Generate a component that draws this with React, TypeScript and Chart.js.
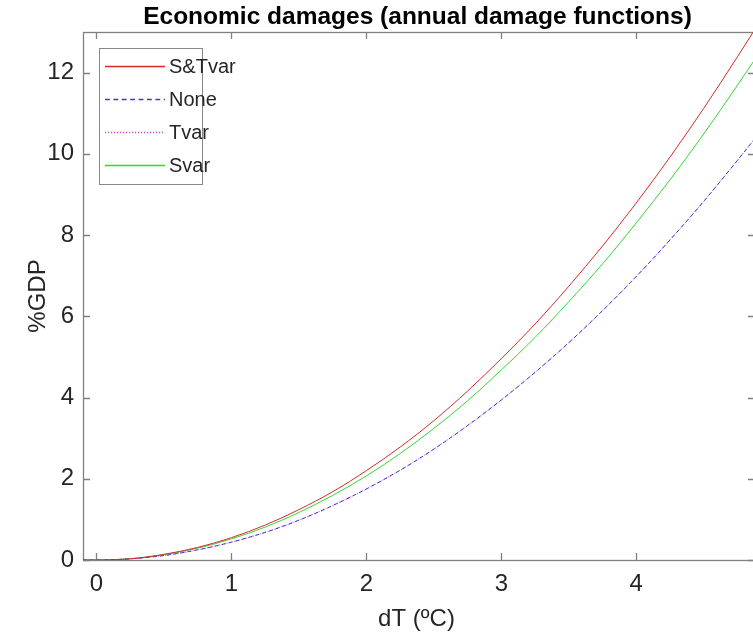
import React, { useEffect, useRef } from "react";
import { Chart, registerables } from "chart.js";

Chart.register(...registerables);

const dT = [-0.1, 0, 0.25, 0.5, 0.75, 1, 1.25, 1.5, 1.75, 2, 2.25, 2.5, 2.75, 3, 3.25, 3.5, 3.75, 4, 4.25, 4.5, 4.75, 4.88];
const sTvar = [0, 0, 0.03, 0.14, 0.31, 0.55, 0.86, 1.24, 1.68, 2.2, 2.78, 3.43, 4.16, 4.96, 5.81, 6.74, 7.73, 8.79, 9.92, 11.12, 12.39, 13.07];
const none = [0, 0, 0.03, 0.11, 0.25, 0.44, 0.68, 0.98, 1.34, 1.75, 2.21, 2.73, 3.31, 3.94, 4.62, 5.35, 6.14, 6.98, 7.88, 8.83, 9.84, 10.38];
const tvar = [0, 0, 0.03, 0.11, 0.25, 0.44, 0.68, 0.98, 1.34, 1.75, 2.21, 2.73, 3.31, 3.94, 4.62, 5.35, 6.14, 6.98, 7.88, 8.83, 9.84, 10.38];
const svar = [0, 0, 0.03, 0.13, 0.29, 0.52, 0.81, 1.17, 1.59, 2.07, 2.62, 3.24, 3.92, 4.68, 5.48, 6.36, 7.29, 8.3, 9.36, 10.49, 11.69, 12.33];

const TITLE = "Economic damages (annual damage functions)";
const X_LABEL = "dT (\u00baC)";
const Y_LABEL = "%GDP";

const FONT = "'Liberation Sans', Arial, Helvetica, sans-serif";
const AXIS_COLOR = "#808080";
const TEXT_COLOR = "#262626";

const series = [
  { label: "S&Tvar", data: sTvar, color: "#d42a2a", dash: [] as number[] },
  { label: "None", data: none, color: "#3b3bd0", dash: [4, 3] },
  { label: "Tvar", data: tvar, color: "#d040d0", dash: [1, 1.5] },
  { label: "Svar", data: svar, color: "#33d633", dash: [] as number[] },
];

const boxPlugin = {
  id: "matlabBox",
  beforeDatasetsDraw(chart: any) {
    const { ctx, chartArea, scales } = chart;
    const { left, right, top, bottom } = chartArea;
    const x = scales.x;
    const y = scales.y;
    ctx.save();
    ctx.strokeStyle = AXIS_COLOR;
    ctx.lineWidth = 1.3;
    ctx.strokeRect(left + 0.5, top + 0.5, right - left, bottom - top);
    const tl = 7;
    ctx.beginPath();
    x.ticks.forEach((t: any) => {
      const px = Math.round(x.getPixelForValue(t.value)) + 0.5;
      ctx.moveTo(px, bottom);
      ctx.lineTo(px, bottom - tl);
      ctx.moveTo(px, top);
      ctx.lineTo(px, top + tl);
    });
    y.ticks.forEach((t: any) => {
      const py = Math.round(y.getPixelForValue(t.value)) + 0.5;
      ctx.moveTo(left, py);
      ctx.lineTo(left + tl, py);
      ctx.moveTo(right, py);
      ctx.lineTo(right - tl, py);
    });
    ctx.stroke();
    ctx.restore();
  },
  afterDraw(chart: any) {
    const { ctx, chartArea } = chart;
    const { left, right, top, bottom } = chartArea;
    ctx.save();
    // title
    ctx.fillStyle = "#000";
    ctx.font = `bold 24.5px ${FONT}`;
    ctx.textAlign = "center";
    ctx.textBaseline = "alphabetic";
    ctx.fillText(TITLE, (left + right) / 2 - 1.5, 24);
    // x label
    ctx.fillStyle = TEXT_COLOR;
    ctx.font = `24px ${FONT}`;
    ctx.fillText(X_LABEL, (left + right) / 2 - 2.5, 626);
    // y label
    ctx.save();
    ctx.translate(45, (top + bottom) / 2);
    ctx.rotate(-Math.PI / 2);
    ctx.fillText(Y_LABEL, 0, 0);
    ctx.restore();
    // legend
    const bx = 99, by = 48, bw = 103, bh = 136;
    ctx.fillStyle = "#fff";
    ctx.fillRect(bx, by, bw, bh);
    ctx.strokeStyle = "#888";
    ctx.lineWidth = 1;
    ctx.strokeRect(bx + 0.5, by + 0.5, bw, bh);
    const rows = [66.5, 99.5, 132.5, 165.5];
    series.forEach((s, i) => {
      const yy = rows[i];
      ctx.strokeStyle = s.color;
      ctx.lineWidth = 1.6;
      ctx.setLineDash(s.dash.map((d) => d * 1.2));
      ctx.beginPath();
      ctx.moveTo(105, yy);
      ctx.lineTo(165, yy);
      ctx.stroke();
      ctx.setLineDash([]);
      ctx.fillStyle = TEXT_COLOR;
      ctx.font = `20px ${FONT}`;
      ctx.textAlign = "left";
      ctx.textBaseline = "middle";
      ctx.fillText(s.label, 169, yy + 1);
    });
    ctx.restore();
  },
};

export default function App() {
  const ref = useRef<HTMLCanvasElement | null>(null);
  useEffect(() => {
    if (!ref.current) return;
    const chart = new Chart(ref.current, {
      type: "line",
      data: {
        datasets: series.map((s) => ({
          label: s.label,
          data: dT.map((t, i) => ({ x: t, y: s.data[i] })),
          borderColor: s.color,
          backgroundColor: s.color,
          borderWidth: 1,
          borderDash: s.dash,
          pointRadius: 0,
          cubicInterpolationMode: "monotone" as const,
          fill: false,
        })),
      },
      options: {
        responsive: false,
        animation: false,
        layout: { padding: { top: 32, right: 5, left: 0, bottom: 0 } },
        plugins: {
          legend: { display: false },
          title: { display: false },
          tooltip: { enabled: false },
        },
        scales: {
          x: {
            type: "linear",
            min: -0.1,
            max: 4.88,
            grid: { display: false, drawTicks: false },
            border: { display: false },
            ticks: {
              stepSize: 1,
              includeBounds: false,
              padding: 10,
              color: TEXT_COLOR,
              font: { family: FONT, size: 24 },
              maxRotation: 0,
            },
            afterFit(scale: any) {
              scale.height = 74;
            },
          },
          y: {
            type: "linear",
            min: 0,
            max: 13,
            grid: { display: false, drawTicks: false },
            border: { display: false },
            ticks: {
              stepSize: 2,
              includeBounds: false,
              padding: 9,
              color: TEXT_COLOR,
              font: { family: FONT, size: 24 },
            },
            afterFit(scale: any) {
              scale.width = 83;
            },
          },
        },
      },
      plugins: [boxPlugin],
    });
    return () => chart.destroy();
  }, []);
  return (
    <div style={{ position: "fixed", left: 0, top: 0, width: 753, height: 634, overflow: "hidden", background: "#fff" }}>
      <canvas ref={ref} width={760} height={634} style={{ display: "block" }} />
    </div>
  );
}
